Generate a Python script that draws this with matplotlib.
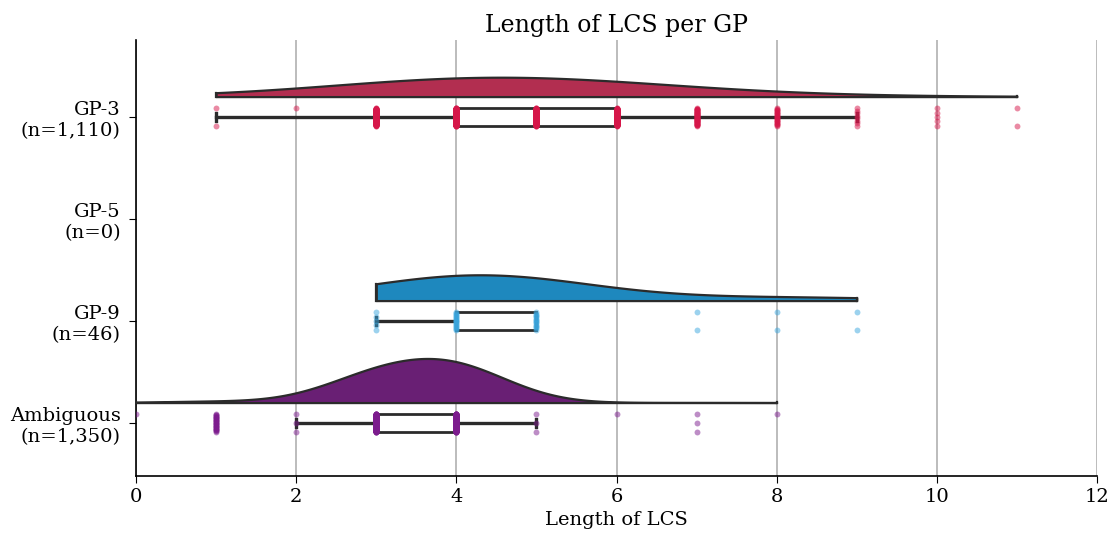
import numpy as np
import matplotlib
matplotlib.use("Agg")
import matplotlib.pyplot as plt

# Observed LCS lengths per group (value -> count)
groups = ["GP-3", "GP-5", "GP-9", "Ambiguous"]
gp3_values = [1, 2, 3, 4, 5, 6, 7, 8, 9, 10, 11]
gp3_counts = [2, 1, 150, 400, 277, 190, 50, 25, 8, 5, 2]
gp5_values = []
gp5_counts = []
gp9_values = [3, 4, 5, 7, 8, 9]
gp9_counts = [5, 20, 15, 2, 2, 2]
amb_values = [0, 1, 2, 3, 4, 5, 6, 7, 8]
amb_counts = [1, 30, 3, 560, 748, 3, 1, 3, 1]

violin_colors = ["#B22E50", "#888888", "#1E88BE", "#691F74"]
point_colors = ["#D6174A", "#888888", "#3AA6DE", "#7D1C8E"]
kde_bw = [1.7, 1.0, 1.2, 0.7]

series = [(gp3_values, gp3_counts), (gp5_values, gp5_counts),
          (gp9_values, gp9_counts), (amb_values, amb_counts)]

plt.rcParams["font.family"] = "DejaVu Serif"

fig = plt.figure(figsize=(11.15, 5.42), dpi=100)
ax = fig.add_axes([136 / 1115, 66 / 542, 961 / 1115, 436 / 542])

violin_offset = 0.2
area_scale = 1.0
box_width = 0.17
jitter = 0.085


def kde(vals, cnts, grid, bw):
    vals = np.asarray(vals, float)
    cnts = np.asarray(cnts, float)
    z = (grid[:, None] - vals[None, :]) / bw
    dens = (np.exp(-0.5 * z ** 2) * cnts[None, :]).sum(axis=1)
    return dens / (cnts.sum() * bw * np.sqrt(2 * np.pi))


labels = []
for i, (name, (vals, cnts)) in enumerate(zip(groups, series)):
    n = int(sum(cnts))
    labels.append(f"{name}\n(n={n:,})")
    if n == 0:
        continue
    data = np.repeat(vals, cnts)

    # half violin above the category line
    grid = np.linspace(min(vals), max(vals), 300)
    dens = kde(vals, cnts, grid, kde_bw[i]) * area_scale
    base = i - violin_offset
    ax.fill_between(grid, base, base - dens, facecolor=violin_colors[i],
                    edgecolor="#2b2b2b", linewidth=1.6, zorder=3)
    ax.plot([grid[0], grid[0]], [base, base - dens[0]], color="#2b2b2b", lw=1.6, zorder=3)
    ax.plot([grid[-1], grid[-1]], [base, base - dens[-1]], color="#2b2b2b", lw=1.6, zorder=3)

    # box and whiskers
    ax.boxplot([data], positions=[i], orientation="horizontal", widths=box_width,
               showfliers=False, patch_artist=True, capwidths=0.08,
               boxprops=dict(facecolor="white", edgecolor="#2b2b2b", linewidth=2.0),
               whiskerprops=dict(color="#2b2b2b", linewidth=2.4),
               capprops=dict(color="#2b2b2b", linewidth=2.4),
               medianprops=dict(color="#2b2b2b", linewidth=2.0),
               zorder=4)

    # strip of individual observations
    for v, c in zip(vals, cnts):
        if c == 1:
            offs = np.array([-0.09])
        else:
            offs = np.linspace(-jitter, jitter, c)
        ax.scatter(np.full(c, v), i + offs, s=18, color=point_colors[i],
                   alpha=0.5, linewidths=0, zorder=5)

ax.set_xlim(0, 12)
ax.set_ylim(3.52, -0.755)
ax.set_yticks(range(len(groups)))
ax.set_yticklabels(labels, fontsize=14, linespacing=1.25)
ax.set_xticks(range(0, 13, 2))
ax.tick_params(axis="x", labelsize=14, length=5)
ax.tick_params(axis="y", length=5, pad=6)
ax.grid(axis="x", color="#b0b0b0", linewidth=1.2)
ax.set_axisbelow(True)
for s in ["top", "right"]:
    ax.spines[s].set_visible(False)
ax.spines["left"].set_linewidth(1.2)
ax.spines["bottom"].set_linewidth(1.2)

ax.set_xlabel("Length of LCS", fontsize=14)
ax.set_title("Length of LCS per GP", fontsize=17)

fig.savefig("out.png", dpi=100)
